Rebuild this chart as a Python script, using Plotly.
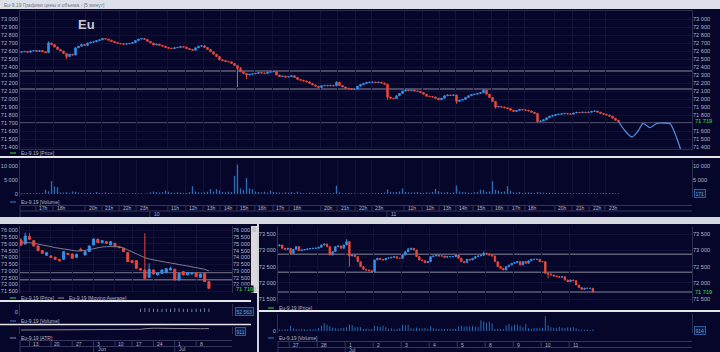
import plotly.graph_objects as go

W, H = 720, 352

# ---------------- TOP: 5-minute chart ----------------
top_first_open = 72585
top_close = [
    72590, 72595, 72585, 72600, 72605, 72595, 72605, 72590, 72580, 72700,
    72680, 72650, 72620, 72600, 72570, 72530, 72560, 72550, 72640, 72660,
    72680, 72670, 72700, 72710, 72715, 72730, 72740, 72755, 72750, 72735,
    72720, 72705, 72695, 72690, 72685, 72690, 72695, 72705, 72730, 72750,
    72755, 72745, 72720, 72700, 72675, 72685, 72670, 72660, 72645, 72635,
    72630, 72640, 72645, 72655, 72650, 72630, 72620, 72610, 72640, 72660,
    72665, 72645, 72620, 72590, 72560, 72530, 72490, 72480, 72470, 72465,
    72445, 72420, 72380, 72340, 72320, 72300, 72310, 72315, 72320, 72330,
    72325, 72320, 72335, 72340, 72345, 72300, 72280, 72285, 72275, 72280,
    72290, 72270, 72245, 72235, 72225, 72215, 72195, 72175, 72160, 72145,
    72165, 72170, 72165, 72170, 72165, 72210, 72170, 72150, 72135, 72130,
    72120, 72125, 72160, 72180, 72195, 72205, 72210, 72212, 72205, 72210,
    72200, 72185, 72025, 72010, 72005, 72040, 72070, 72100, 72112, 72105,
    72110, 72100, 72095, 72080, 72060, 72035, 72030, 72025, 72010, 71990,
    72010, 72040, 72050, 72045, 72050, 71970, 71985, 71995, 72020, 72040,
    72055, 72060, 72070, 72080, 72110, 72060, 72020, 71970, 71900, 71905,
    71900, 71890, 71880, 71860, 71845, 71855, 71870, 71865, 71860, 71850,
    71835, 71820, 71720, 71725, 71740, 71765, 71785, 71795, 71805, 71810,
    71815, 71820, 71815, 71810, 71825, 71833, 71830, 71835, 71830, 71835,
    71845, 71850, 71835, 71820, 71810, 71800, 71785, 71760, 71735, 71719,
]
top_extra_high = [(9, 72720), (72, 72420), (73, 72400), (105, 72220), (154, 72120)]
top_extra_low = [(15, 72500), (72, 72150), (75, 72250), (122, 71990), (145, 71940),
                 (158, 71880), (172, 71700)]
top_volume = [
    300, 250, 400, 350, 200, 300, 250, 400, 1500, 1000,
    4600, 2700, 2400, 600, 500, 700, 400, 900, 800, 500,
    400, 300, 350, 500, 300, 700, 400, 300, 600, 350,
    300, 250, 200, 350, 300, 250, 200, 300, 350, 250,
    300, 200, 250, 600, 900, 700, 500, 600, 1200, 800,
    500, 400, 600, 500, 400, 350, 700, 2800, 900, 600,
    500, 600, 800, 1800, 900, 1700, 1300, 700, 600, 800,
    700, 6500, 10500, 2000, 1500, 5700, 2000, 1700, 900, 700,
    600, 800, 500, 1200, 700, 600, 500, 400, 600, 500,
    700, 400, 800, 500, 400, 300, 500, 400, 300, 400,
    300, 250, 350, 300, 400, 3000, 600, 400, 300, 350,
    300, 250, 200, 300, 250, 300, 200, 250, 300, 350,
    400, 500, 1600, 800, 600, 700, 900, 2000, 700, 600,
    500, 600, 700, 500, 400, 600, 500, 700, 1800, 1000,
    600, 500, 700, 400, 600, 3000, 900, 700, 600, 500,
    400, 600, 700, 1500, 1400, 800, 900, 4600, 1500, 1200,
    700, 900, 2800, 1200, 600, 500, 700, 400, 500, 600,
    500, 400, 700, 600, 500, 400, 450, 350, 400, 300,
    350, 300, 400, 350, 300, 250, 300, 350, 300, 250,
    300, 350, 250, 300, 400, 300, 350, 300, 250, 300,
]
top_levels = [72350, 72125, 71700]
top_forecast_x = [199, 201, 203.5, 205.5, 207.2, 209.5, 211.8, 214, 216.2, 217.5, 219, 220.5, 222]
top_forecast_y = [71719, 71610, 71525, 71600, 71696, 71642, 71696, 71700, 71690, 71600, 71450, 71280, 71120]
top_hour_ticks = [4.8, 10.5, 21.2, 26.8, 32.5, 38.2, 48.8, 54.8, 60.5, 66.2, 71.8, 77.8,
                  83.8, 89.2, 99.8, 105.2, 111.2, 116.8, 127.5, 133.5, 139.2, 144.8,
                  150.5, 156.8, 162.2, 167.8, 177.8, 183.5, 189.2, 194.5]
top_hour_labels = ['17h', '18h', '20h', '21h', '22h', '23h', '11h', '12h', '13h', '14h',
                   '15h', '16h', '17h', '18h', '20h', '21h', '22h', '23h', '11h', '12h',
                   '13h', '14h', '15h', '16h', '17h', '18h', '20h', '21h', '22h', '23h']
top_day_ticks = [42.8, 121.8]
top_day_labels = ['10', '11']
top_price_ticks = [71400, 71500, 71600, 71700, 71800, 71900, 72000, 72100, 72200, 72300,
                   72400, 72500, 72600, 72700, 72800, 72900, 73000]
# right scale: 71 700 is covered by the last-price label
top_price_ticks_right = [71400, 71500, 71600, 71800, 71900, 72000, 72100, 72200, 72300,
                         72400, 72500, 72600, 72700, 72800, 72900, 73000]
top_volume_ticks = [0, 5000, 10000]
top_volume_ticks_right = [5000, 10000]
top_volume_box = '171'

# ---------------- BOTTOM LEFT: daily chart ----------------
bl_open = [75287, 74991, 75533, 75237, 74844, 74500, 74155, 74106, 74007, 73860,
           73860, 74303, 74253, 74007, 74598, 74180, 74426, 74918, 75336, 75090,
           75164, 74918, 75041, 74795, 74672, 74352, 73761, 73761, 73171, 73073,
           72531, 73073, 72704, 72827, 72876, 73073, 73122, 72335, 72950, 72704,
           72777, 72876, 72531, 72827, 72212]
bl_close = [74893, 75582, 75336, 74844, 74500, 74303, 74352, 74007, 73860, 73761,
            74426, 74204, 73934, 74229, 74500, 74426, 74844, 75360, 75090, 75237,
            75041, 75164, 74795, 74720, 74426, 73688, 73614, 73196, 73073, 72458,
            73122, 72777, 72876, 73073, 73171, 73196, 72335, 72827, 72704, 72876,
            72876, 72581, 72777, 72212, 71719]
bl_high = [75410, 75828, 75779, 75287, 74870, 74550, 74400, 74150, 74050, 73880,
           74450, 74330, 74280, 74260, 74720, 74450, 74870, 75400, 75380, 75260,
           75190, 75190, 75060, 74830, 74700, 74380, 73790, 73790, 73200, 75779,
           73565, 73100, 72900, 73100, 73200, 73319, 73150, 72850, 72980, 72900,
           72900, 72900, 72800, 72850, 72240]
bl_low = [74844, 74942, 75287, 74795, 74450, 74250, 74130, 73960, 73820, 73700,
          73830, 74180, 73900, 73980, 74480, 74150, 74400, 74900, 75060, 75050,
          75000, 74890, 74770, 74700, 74400, 73650, 73590, 73150, 73040, 72430,
          72500, 72750, 72680, 72800, 72850, 73050, 72300, 72300, 72680, 72680,
          72750, 72550, 72500, 72180, 71690]
bl_ma = [75090, 75114, 75090, 75041, 74991, 74918, 74844, 74795, 74721, 74672,
         74598, 74549, 74500, 74475, 74475, 74500, 74573, 74647, 74721, 74770,
         74795, 74819, 74795, 74770, 74697, 74549, 74401, 74253, 74106, 73983,
         73884, 73811, 73737, 73688, 73638, 73589, 73515, 73466, 73417, 73368,
         73319, 73270, 73220, 73122, 73000]
bl_volume = [0, 0, 0, 0, 0, 0, 0, 0, 0, 0,
             0, 0, 0, 0, 0, 0, 0, 0, 0, 0,
             0, 0, 0, 0, 0, 0, 0, 0, 52000, 61000,
             58000, 47000, 50000, 45000, 49000, 51000, 60000, 55000, 48000, 50000,
             46000, 53000, 49000, 58000, 52563]
bl_atr = [700, 705, 710, 705, 700, 700, 705, 700, 695, 700,
          700, 705, 700, 700, 705, 700, 700, 705, 700, 700,
          705, 700, 700, 705, 710, 720, 730, 760, 800, 880,
          950, 960, 955, 940, 920, 900, 890, 880, 880, 875,
          870, 880, 890, 900, 911]
bl_levels = [72880, 72350]
bl_week_ticks = [2, 7, 12, 17, 22, 26, 31, 36, 41]
bl_week_labels = ['13', '20', '27', '3', '10', '17', '24', '1', '8']
bl_month_ticks = [17, 36]
bl_month_labels = ['Jun', 'Jul']
bl_price_ticks = [71500, 72000, 72500, 73000, 73500, 74000, 74500, 75000, 75500, 76000]
# right scale: 71 500 is covered by the last-price label
bl_price_ticks_right = [72000, 72500, 73000, 73500, 74000, 74500, 75000, 75500, 76000]
bl_volume_box = '52 563'
bl_atr_box = '911'

# ---------------- BOTTOM RIGHT: hourly chart ----------------
br_first_open = 73140
br_close = [
    73170, 73067, 73036, 73067, 72913, 73036, 73119, 72995, 73016, 73030,
    73047, 73060, 73067, 73070, 73098, 73170, 73201, 73119, 72861, 72964,
    73119, 73140, 73067, 73170, 73273, 72830, 72861, 72810, 72655, 72501,
    72418, 72398, 72377, 72346, 72707, 72758, 72727, 72707, 72758, 72770,
    72789, 72810, 72758, 72758, 72861, 72964, 73036, 73067, 73016, 72810,
    72707, 72686, 72624, 72655, 72810, 72830, 72861, 72830, 72830, 72789,
    72810, 72810, 72810, 72861, 72758, 72655, 72624, 72727, 72707, 72758,
    72810, 72830, 72850, 72913, 72892, 72861, 72830, 72655, 72501, 72449,
    72398, 72501, 72552, 72604, 72624, 72655, 72552, 72655, 72604, 72680,
    72727, 72727, 72727, 72655, 72655, 72295, 72274, 72243, 72213, 72192,
    72171, 72192, 72089, 72037, 72089, 72068, 71934, 71852, 71800, 71831,
    71831, 71831, 71719,
]
br_extra_high = [(24, 73345), (73, 72964), (46, 73080)]
br_extra_low = [(4, 72880), (25, 72500), (34, 72330), (96, 72140), (33, 72320)]
br_volume = [
    150, 120, 180, 150, 560, 300, 200, 150, 230, 180,
    120, 200, 150, 180, 330, 560, 830, 650, 500, 350,
    300, 250, 300, 350, 400, 700, 600, 400, 430, 400,
    200, 250, 180, 220, 560, 500, 450, 560, 400, 250,
    300, 200, 250, 300, 650, 600, 650, 300, 250, 350,
    300, 280, 320, 250, 500, 300, 250, 200, 250, 230,
    200, 250, 220, 250, 500, 550, 450, 500, 480, 520,
    450, 400, 1150, 1000, 900, 1000, 800, 200, 250, 200,
    220, 600, 750, 500, 650, 700, 550, 400, 750, 300,
    250, 320, 280, 300, 350, 1570, 600, 400, 350, 300,
    450, 350, 300, 400, 350, 400, 300, 150, 150, 120,
    150, 100, 150,
]
br_day_labels = ['26', '27', '28', '1', '2', '3', '4', '5', '8', '9', '10', '11']
br_day_counts = [4, 10, 10, 10, 10, 10, 10, 10, 10, 10, 10, 9]
br_month_day = '1'
br_month_label = 'Jul'
br_levels = [72882, 72326, 71718]
br_price_ticks = [71500, 72000, 72500, 73000, 73500]
br_volume_box = '914'

last_price_label = '71 719'
legend_price = 'Eu-9.19 [Price]'
legend_ma = 'Eu-9.19 [Moving Average]'
legend_vol = 'Eu-9.19 [Volume]'
legend_atr = 'Eu-9.19 [ATR]'
window_title = 'Eu-9.19 Графики цены и объема - [5 минут]'
big_label = 'Eu'

# ---------------- styling ----------------
BG = '#06062a'
PAPER = '#d5d8df'
FRAME = '#2e2e50'
GRID = '#121238'
TXT = '#b4b4c6'
UP = '#3590e4'
DN = '#e6483a'
VOLC = '#2b6cb4'
LEVEL = '#5e5e74'
SEP = '#e6e6ea'
FONT = 'Liberation Sans, Arial, sans-serif'
TICK_SIZE = 5.6
SMALL = 5


def px_x(a, b):
    return [a / W, b / W]


def px_y(top, bot):
    return [1 - bot / H, 1 - top / H]


def py(v):
    return 1 - v / H


def build_ohlc(first_open, closes, extra_high, extra_low):
    opens = [first_open] + closes[:-1]
    highs = [max(o, c) for o, c in zip(opens, closes)]
    lows = [min(o, c) for o, c in zip(opens, closes)]
    for i, v in extra_high:
        highs[i] = max(highs[i], v)
    for i, v in extra_low:
        lows[i] = min(lows[i], v)
    return opens, highs, lows


fig = go.Figure()

candle_style = dict(increasing=dict(line=dict(color=UP, width=1), fillcolor=UP),
                    decreasing=dict(line=dict(color=DN, width=1), fillcolor=DN),
                    whiskerwidth=0, hoverinfo='skip', showlegend=False)

# top price
t_open, t_high, t_low = build_ohlc(top_first_open, top_close, top_extra_high, top_extra_low)
tx = list(range(len(top_close)))
fig.add_trace(go.Candlestick(x=tx, open=t_open, high=t_high, low=t_low, close=top_close,
                             xaxis='x', yaxis='y', **candle_style))
fig.add_trace(go.Scatter(x=top_forecast_x, y=top_forecast_y, mode='lines',
                         line=dict(color='#5286dc', width=1.3, shape='spline', smoothing=0.7),
                         xaxis='x', yaxis='y', hoverinfo='skip', showlegend=False))
fig.add_trace(go.Bar(x=tx, y=top_volume, width=0.45, marker=dict(color=VOLC, line=dict(width=0)),
                     xaxis='x2', yaxis='y2', hoverinfo='skip', showlegend=False))

# bottom-left
bx = list(range(len(bl_close)))
fig.add_trace(go.Candlestick(x=bx, open=bl_open, high=bl_high, low=bl_low, close=bl_close,
                             xaxis='x3', yaxis='y3', **candle_style))
fig.add_trace(go.Scatter(x=bx, y=bl_ma, mode='lines', line=dict(color='#7c7c8c', width=1),
                         xaxis='x3', yaxis='y3', hoverinfo='skip', showlegend=False))
fig.add_trace(go.Bar(x=bx, y=bl_volume, width=0.2, marker=dict(color='#7e8fb4', line=dict(width=0)),
                     xaxis='x4', yaxis='y4', hoverinfo='skip', showlegend=False))
fig.add_trace(go.Scatter(x=bx, y=bl_atr, mode='lines', line=dict(color='#8a8a98', width=1),
                         xaxis='x5', yaxis='y5', hoverinfo='skip', showlegend=False))

# bottom-right
r_open, r_high, r_low = build_ohlc(br_first_open, br_close, br_extra_high, br_extra_low)
rx = list(range(len(br_close)))
fig.add_trace(go.Candlestick(x=rx, open=r_open, high=r_high, low=r_low, close=br_close,
                             xaxis='x6', yaxis='y6', **candle_style))
fig.add_trace(go.Bar(x=rx, y=br_volume, width=0.35, marker=dict(color=VOLC, line=dict(width=0)),
                     xaxis='x7', yaxis='y7', hoverinfo='skip', showlegend=False))

# dummy traces for right-side label axes
for ya, xa in [('y8', 'x'), ('y9', 'x2'), ('y10', 'x3'), ('y11', 'x6')]:
    fig.add_trace(go.Scatter(x=[None], y=[None], xaxis=xa, yaxis=ya, showlegend=False,
                             hoverinfo='skip'))

tickfont = dict(family=FONT, size=TICK_SIZE, color=TXT)


def xaxis(dom, rng, grid_vals=None):
    d = dict(domain=dom, range=rng, showticklabels=False, ticks='', zeroline=False,
             showline=True, mirror=True, linecolor=FRAME, linewidth=1, fixedrange=True,
             rangeslider=dict(visible=False))
    if grid_vals is not None:
        d.update(tickmode='array', tickvals=grid_vals, showgrid=True, gridcolor=GRID, gridwidth=1)
    else:
        d.update(showgrid=False)
    return d


def yaxis(dom, rng, anchor, ticks=None, grid=True, labels=True):
    d = dict(domain=dom, range=rng, anchor=anchor, zeroline=False, showline=True, mirror=True,
             linecolor=FRAME, linewidth=1, fixedrange=True, ticks='', tickfont=tickfont,
             tickformat=',d', showgrid=grid, gridcolor=GRID, showticklabels=labels)
    if ticks is not None:
        d.update(tickmode='array', tickvals=ticks)
    return d


def right_axis(over, anchor, rng, ticks):
    return dict(overlaying=over, side='right', anchor=anchor, range=rng, tickmode='array',
                tickvals=ticks, tickformat=',d', tickfont=tickfont, ticks='', showgrid=False,
                zeroline=False, showline=False, fixedrange=True)


top_xr = [-0.5, 223.5]
top_yr = [71375, 73100]
top_vr = [-1071, 12143]
bl_xr = [-0.23, 49.4]
bl_yr = [71373, 76317]
bl_vr = [-60000, 120000]
bl_ar = [112, 1141]
br_starts = []
acc = 0
for c in br_day_counts:
    br_starts.append(acc - 0.5)
    acc += c
br_xr = [-0.5, 147.4]
br_yr = [71377, 73726]
br_vr = [-211, 1800]

layout = dict(
    width=W, height=H, margin=dict(l=0, r=0, t=0, b=0), autosize=False,
    paper_bgcolor=PAPER, plot_bgcolor=BG, separators=', ', showlegend=False,
    font=dict(family=FONT, size=6, color=TXT), hovermode=False,
    xaxis=xaxis(px_x(20, 692), top_xr, top_hour_ticks),
    yaxis=yaxis(px_y(11, 149), top_yr, 'x', top_price_ticks),
    xaxis2=xaxis(px_x(20, 692), top_xr, top_hour_ticks),
    yaxis2=yaxis(px_y(160, 197), top_vr, 'x2', top_volume_ticks, grid=False),
    xaxis3=xaxis(px_x(20, 232), bl_xr, bl_week_ticks),
    yaxis3=yaxis(px_y(226, 293), bl_yr, 'x3', bl_price_ticks),
    xaxis4=xaxis(px_x(20, 232), bl_xr),
    yaxis4=yaxis(px_y(304, 316), bl_vr, 'x4', [0], grid=False),
    xaxis5=xaxis(px_x(20, 232), bl_xr),
    yaxis5=yaxis(px_y(327, 334), bl_ar, 'x5', grid=False, labels=False),
    xaxis6=xaxis(px_x(278, 692), br_xr, br_starts[1:]),
    yaxis6=yaxis(px_y(227, 303), br_yr, 'x6', br_price_ticks),
    xaxis7=xaxis(px_x(278, 692), br_xr),
    yaxis7=yaxis(px_y(314, 333), br_vr, 'x7', [0], grid=False),
    yaxis8=right_axis('y', 'x', top_yr, top_price_ticks_right),
    yaxis9=right_axis('y2', 'x2', top_vr, top_volume_ticks_right),
    yaxis10=right_axis('y3', 'x3', bl_yr, bl_price_ticks_right),
    yaxis11=right_axis('y6', 'x6', br_yr, br_price_ticks),
)
layout['yaxis5']['tickvals'] = []

shapes = []
annotations = []


def rect(x0, y0, x1, y1, color, layer='below', line=None):
    shapes.append(dict(type='rect', xref='paper', yref='paper', x0=x0 / W, x1=x1 / W,
                       y0=py(y1), y1=py(y0), fillcolor=color,
                       line=dict(width=0) if line is None else line, layer=layer))


def hline_px(x0, x1, y, color, width=1, layer='above'):
    shapes.append(dict(type='line', xref='paper', yref='paper', x0=x0 / W, x1=x1 / W,
                       y0=py(y), y1=py(y), line=dict(color=color, width=width), layer=layer))


# dark panels
rect(0, 9, 720, 217, BG)
rect(0, 224, 257, 352, BG)
rect(259, 224, 720, 352, BG)
# title bar
rect(0, 0, 720, 9, '#dde0e8')
annotations.append(dict(text=window_title, xref='paper', yref='paper', x=2 / W, y=py(4.5),
                        xanchor='left', yanchor='middle', showarrow=False,
                        font=dict(family=FONT, size=SMALL, color='#74747e')))
# white separators
hline_px(0, 720, 157, SEP, 2)
hline_px(0, 251, 301, SEP, 2)
hline_px(0, 251, 324.5, SEP, 1.5)
hline_px(259, 720, 311, SEP, 2)
rect(257, 224, 259, 352, '#cfd2d9', layer='above')
# scrollbar of lower-left chart
rect(251, 226, 257, 293, '#dadada', layer='above')
rect(252, 227, 256, 232, '#c4c4c4', layer='above')
rect(252, 287, 256, 292, '#c4c4c4', layer='above')

# level lines
for lv in top_levels:
    shapes.append(dict(type='line', xref='x domain', yref='y', x0=0, x1=1, y0=lv, y1=lv,
                       line=dict(color=LEVEL, width=1.5), layer='below'))
for lv in bl_levels:
    shapes.append(dict(type='line', xref='x3 domain', yref='y3', x0=0, x1=1, y0=lv, y1=lv,
                       line=dict(color=LEVEL, width=1.3), layer='below'))
for lv in br_levels:
    shapes.append(dict(type='line', xref='x6 domain', yref='y6', x0=0, x1=1, y0=lv, y1=lv,
                       line=dict(color=LEVEL, width=1.5), layer='below'))

ROWC = '#35355a'


def time_rows(xref, x0, x1, ytop, ymid, ybot, t1, l1, t2, l2):
    for yy in (ytop, ymid):
        hline_px(x0, x1, yy, ROWC, 1)
    for t, lab in zip(t1, l1):
        shapes.append(dict(type='line', xref=xref, yref='paper', x0=t, x1=t, y0=py(ymid),
                           y1=py(ytop), line=dict(color=ROWC, width=1)))
        annotations.append(dict(text=lab, xref=xref, yref='paper', x=t, y=py((ytop + ymid) / 2),
                                xanchor='left', yanchor='middle', xshift=1.5, showarrow=False,
                                font=dict(family=FONT, size=SMALL, color=TXT)))
    for t, lab in zip(t2, l2):
        shapes.append(dict(type='line', xref=xref, yref='paper', x0=t, x1=t, y0=py(ybot),
                           y1=py(ymid), line=dict(color=ROWC, width=1)))
        annotations.append(dict(text=lab, xref=xref, yref='paper', x=t, y=py((ymid + ybot) / 2),
                                xanchor='left', yanchor='middle', xshift=2, showarrow=False,
                                font=dict(family=FONT, size=SMALL, color=TXT)))
    shapes.append(dict(type='line', xref='paper', yref='paper', x0=x0 / W, x1=x0 / W,
                       y0=py(ybot), y1=py(ytop), line=dict(color=ROWC, width=1)))


time_rows('x2', 20, 692, 205.5, 211, 217, top_hour_ticks, top_hour_labels,
          top_day_ticks, top_day_labels)
time_rows('x3', 20, 232, 340.5, 346.5, 352, bl_week_ticks, bl_week_labels,
          bl_month_ticks, bl_month_labels)
br_ticks = br_starts[1:]
br_labels = br_day_labels[1:]
time_rows('x6', 278, 692, 341.5, 347.5, 352, br_ticks, br_labels,
          [br_starts[br_day_labels.index(br_month_day)]], [br_month_label])


def legend(x, y, color, text):
    shapes.append(dict(type='line', xref='paper', yref='paper', x0=x / W, x1=(x + 6) / W,
                       y0=py(y), y1=py(y), line=dict(color=color, width=1.2)))
    annotations.append(dict(text=text, xref='paper', yref='paper', x=(x + 9) / W, y=py(y),
                            xanchor='left', yanchor='middle', showarrow=False,
                            font=dict(family=FONT, size=SMALL, color=TXT)))


legend(10, 153, '#3cb043', legend_price)
legend(10, 202, VOLC, legend_vol)
legend(10, 298, '#3cb043', legend_price)
legend(58, 298, '#7c7c8c', legend_ma)
legend(10, 321, VOLC, legend_vol)
legend(10, 338, '#7c7c8c', legend_atr)
legend(268, 308, '#3cb043', legend_price)
legend(268, 338, VOLC, legend_vol)


def green_label(xpx, yref, yval, yshift=0):
    annotations.append(dict(text=last_price_label, xref='paper', yref=yref, x=xpx / W, y=yval,
                            xanchor='left', yanchor='middle', showarrow=False, bgcolor=BG,
                            borderpad=0, yshift=yshift,
                            font=dict(family=FONT, size=TICK_SIZE, color='#3ee04a')))


green_label(694, 'y', top_close[-1])
green_label(235, 'y3', bl_close[-1], -1)
green_label(694, 'y6', br_close[-1])


def box_label(xpx, ypx, text):
    annotations.append(dict(text=text, xref='paper', yref='paper', x=xpx / W, y=py(ypx),
                            xanchor='left', yanchor='middle', showarrow=False, bgcolor='#0c1c44',
                            bordercolor='#2d5a9a', borderwidth=1, borderpad=0.5,
                            font=dict(family=FONT, size=SMALL, color='#6f9ad6')))


box_label(694, 193, top_volume_box)
box_label(235, 311, bl_volume_box)
box_label(235, 331, bl_atr_box)
box_label(694, 330, br_volume_box)

annotations.append(dict(text='<b>' + big_label + '</b>', xref='paper', yref='paper',
                        x=76 / W, y=py(24.5), xanchor='left', yanchor='middle', showarrow=False,
                        font=dict(family=FONT, size=13, color='#c9c9d6')))

layout['shapes'] = shapes
layout['annotations'] = annotations
fig.update_layout(**layout)
fig.write_html('out.html', config={'displayModeBar': False, 'staticPlot': True})
